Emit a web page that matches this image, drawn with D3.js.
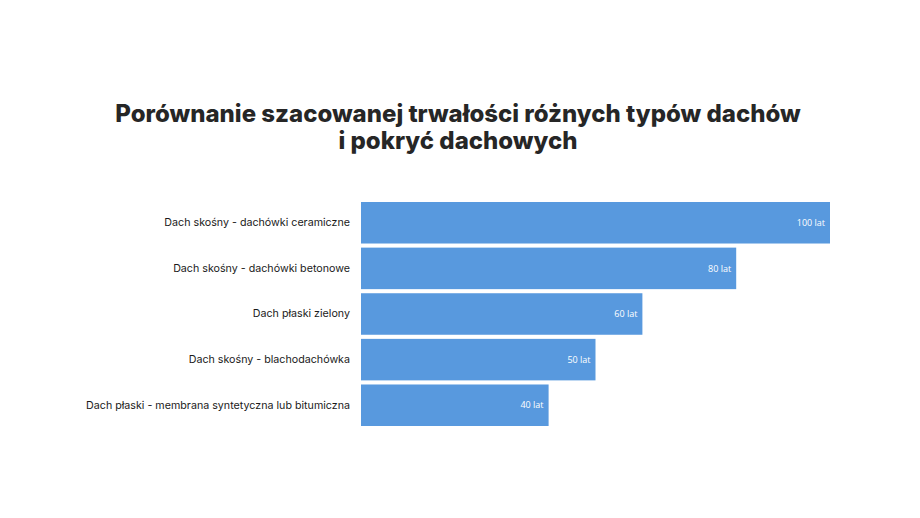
<!DOCTYPE html>
<html lang="pl">
<head>
    <meta charset="UTF-8">
    <title>Trwałość dachów</title>
    <script src="https://d3js.org/d3.v7.min.js"></script>
    <style>
        body { margin: 0; background: #fff; }
        .chart { width: 920px; height: 518px; }
    </style>
</head>
<body>
    <div class="chart"></div>

    <script>
        const titleLines = [
            'Porównanie szacowanej trwałości różnych typów dachów',
            'i pokryć dachowych'
        ];
        const categories = [
            'Dach skośny - dachówki ceramiczne',
            'Dach skośny - dachówki betonowe',
            'Dach płaski zielony',
            'Dach skośny - blachodachówka',
            'Dach płaski - membrana syntetyczna lub bitumiczna'
        ];
        const years = [100, 80, 60, 50, 40];
        const unit = 'lat';

        const W = 920, H = 518;
        const margin = { top: 202, right: 90, bottom: 92, left: 361 };

        const svg = d3.select('.chart')
            .append('svg')
            .attr('width', W)
            .attr('height', H);

        // title
        svg.append('g')
            .selectAll('text')
            .data(titleLines)
            .enter().append('text')
            .attr('x', W / 2 - 2)
            .attr('y', (d, i) => 122 + i * 27)
            .attr('text-anchor', 'middle')
            .attr('font-family', 'Inter, sans-serif')
            .attr('font-weight', 800)
            .attr('font-size', 24)
            .attr('fill', '#262626')
            .text(d => d);

        const x = d3.scaleLinear()
            .domain([0, 100])
            .range([margin.left, W - margin.right]);

        const y = d3.scaleBand()
            .domain(categories)
            .range([margin.top, H - margin.bottom])
            .paddingInner(0.09)
            .paddingOuter(0);

        const data = categories.map((c, i) => ({ cat: c, val: years[i] }));

        // bars
        svg.selectAll('.bar')
            .data(data)
            .enter().append('rect')
            .attr('class', 'bar')
            .attr('x', x(0))
            .attr('y', d => y(d.cat))
            .attr('width', d => x(d.val) - x(0))
            .attr('height', y.bandwidth())
            .attr('fill', '#5899de');

        // value labels inside bars
        svg.selectAll('.val')
            .data(data)
            .enter().append('text')
            .attr('class', 'val')
            .attr('x', d => x(d.val) - 5)
            .attr('y', d => y(d.cat) + y.bandwidth() / 2)
            .attr('dy', '0.35em')
            .attr('text-anchor', 'end')
            .attr('font-family', 'Open Sans, sans-serif')
            .attr('font-size', 9)
            .attr('fill', '#fff')
            .text(d => d.val + ' ' + unit);

        // category axis
        const yAxis = svg.append('g')
            .attr('transform', `translate(${margin.left - 11},0)`)
            .call(d3.axisLeft(y).tickSize(0).tickPadding(0));
        yAxis.select('.domain').remove();
        yAxis.selectAll('text')
            .attr('font-family', 'Inter, sans-serif')
            .attr('font-size', 10.7)
            .attr('fill', '#1a1a1a');
    </script>
</body>
</html>
